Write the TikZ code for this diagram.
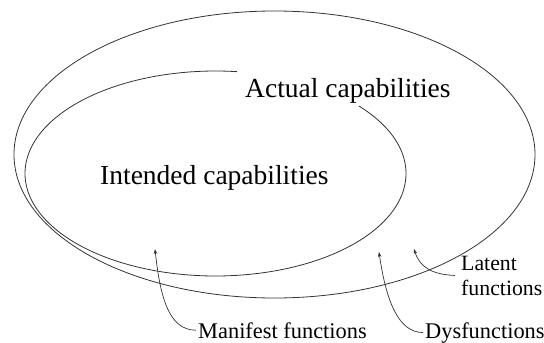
\documentclass[tikz,border=0pt]{standalone}
\usepackage{fontspec}
\setmainfont{Liberation Serif}
\usetikzlibrary{arrows.meta}
\begin{document}
\begin{tikzpicture}[x=1pt,y=-1pt,
  ring/.style={line width=0.8pt, draw=black!80},
  bigtext/.style={inner sep=0pt, anchor=base west, font=\fontsize{27.5}{30}\selectfont},
  smalltext/.style={inner sep=0pt, anchor=base west, font=\fontsize{22.4}{25}\selectfont},
  pointer/.style={line width=0.7pt, draw=black!80, -{Stealth[length=5pt,width=3.6pt]}}]
\useasboundingbox (0,0) rectangle (544,343);
% outer ellipse (actual capabilities)
\draw[ring] (274.5,154.5) ellipse [x radius=260.5pt, y radius=143.5pt];
% inner open ellipse (intended capabilities)
\draw[ring] plot[domain=-41.2:276.5, samples=240, smooth] ({215.5+190.5*cos(\x)}, {173.5+102.5*sin(\x)});
% texts
\node[bigtext] (act) at (245,97) {Actual capabilities};
\node[bigtext] (int) at (100,184) {Intended capabilities};
\node[smalltext] (mf) at (198,338) {Manifest functions};
\node[smalltext] (dys) at (425,338) {Dysfunctions};
\node[smalltext, align=left, font=\fontsize{21.8}{25}\selectfont] (lat) at (461,295) {Latent\\functions};
% pointer tips
\coordinate (mtip) at (155,249);
\coordinate (dtip) at (379,252);
\coordinate (ltip) at (414,249);
% pointers
\draw[pointer] ([xshift=-2pt]mf.west) .. controls +(-28,0) and (160,295) .. (mtip);
\draw[pointer] ([xshift=-2pt]dys.west) .. controls +(-25,0) and (386,300) .. (dtip);
\draw[pointer] ([xshift=-6pt]lat.west) .. controls +(-22,-1) and (420,268) .. (ltip);
\end{tikzpicture}
\end{document}
